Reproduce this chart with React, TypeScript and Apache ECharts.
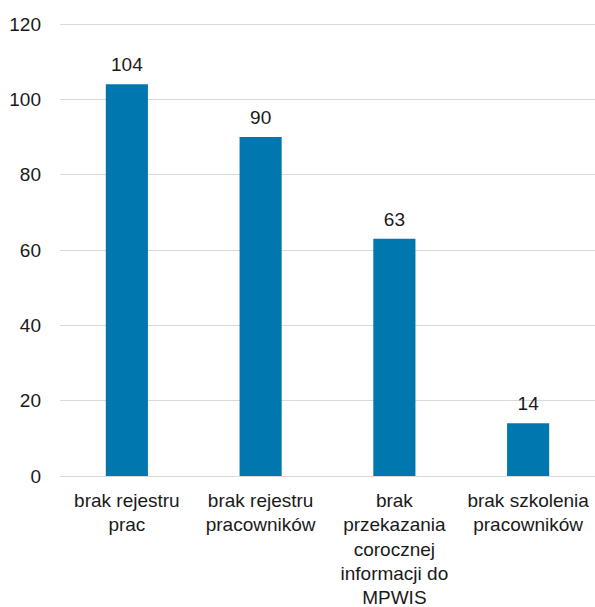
import React, { useEffect, useRef } from "react";
import * as echarts from "echarts";

const categories = [
  "brak rejestru\nprac",
  "brak rejestru\npracowników",
  "brak\nprzekazania\ncorocznej\ninformacji do\nMPWIS",
  "brak szkolenia\npracowników",
];
const values = [104, 90, 63, 14];
const yMin = 0;
const yMax = 120;
const yInterval = 20;

export default function App() {
  const ref = useRef<HTMLDivElement>(null);
  useEffect(() => {
    if (!ref.current) return;
    const chart = echarts.init(ref.current, undefined, { renderer: "svg" });
    const font = "Liberation Sans, Arial, sans-serif";
    chart.setOption({
      animation: false,
      grid: {
        left: 60,
        right: 0,
        top: 24,
        bottom: 131,
        containLabel: false,
        outerBoundsMode: "none",
      },
      xAxis: {
        type: "category",
        data: categories,
        axisLine: { show: true, lineStyle: { color: "#d9d9d9", width: 1 } },
        axisTick: { show: false },
        axisLabel: {
          interval: 0,
          color: "#1a1a1a",
          fontSize: 19,
          fontFamily: font,
          lineHeight: 24.4,
          margin: 12,
        },
      },
      yAxis: {
        type: "value",
        min: yMin,
        max: yMax,
        interval: yInterval,
        axisLine: { show: false },
        axisTick: { show: false },
        splitLine: { lineStyle: { color: "#d9d9d9", width: 1 } },
        axisLabel: { color: "#1a1a1a", fontSize: 19, fontFamily: font, margin: 19 },
      },
      series: [
        {
          type: "bar",
          data: values,
          barWidth: "31.5%",
          itemStyle: { color: "#0078AF" },
          label: {
            show: true,
            position: "top",
            distance: 10,
            color: "#1a1a1a",
            fontSize: 19,
            fontFamily: font,
          },
        },
      ],
    });
    return () => chart.dispose();
  }, []);
  return (
    <div
      ref={ref}
      style={{ position: "absolute", left: 0, top: 0, width: 595, height: 607, background: "#fff" }}
    />
  );
}
